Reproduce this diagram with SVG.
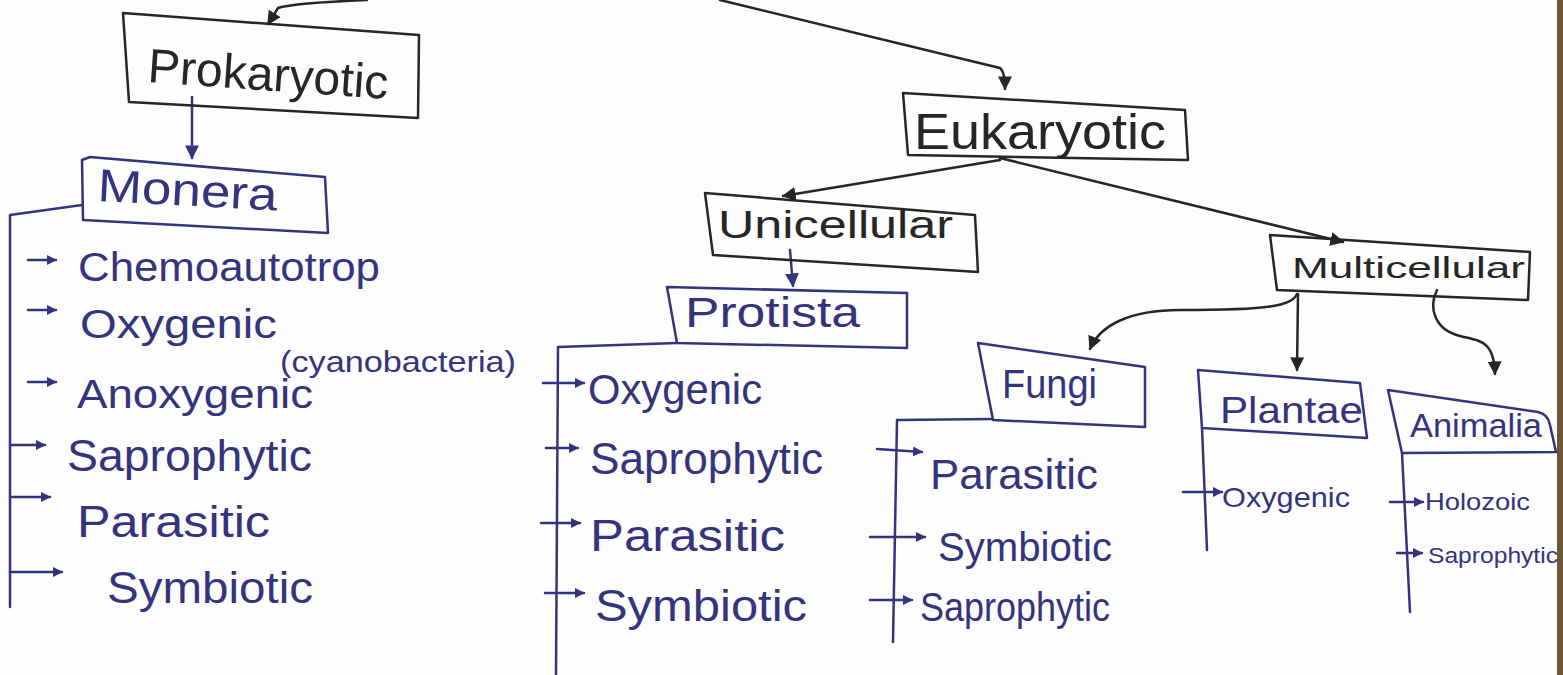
<svg xmlns="http://www.w3.org/2000/svg" width="1563" height="675" viewBox="0 0 1563 675">
<style>
.bk{fill:none;stroke:#262626;stroke-width:2.5;stroke-linejoin:round;stroke-linecap:round}
.bl{fill:none;stroke:#34347e;stroke-width:2.5;stroke-linejoin:round;stroke-linecap:round}
.tk{fill:#262626;font-family:"Liberation Sans","DejaVu Sans",sans-serif}
.tb{fill:#34347e;font-family:"Liberation Sans","DejaVu Sans",sans-serif}
</style>
<defs>
<marker id="ak" viewBox="0 0 10 10" refX="9" refY="5" markerWidth="14" markerHeight="14" markerUnits="userSpaceOnUse" orient="auto"><path d="M0,0 L10,5 L0,10 Z" fill="#262626"/></marker>
<marker id="ab" viewBox="0 0 10 10" refX="9" refY="5" markerWidth="14" markerHeight="14" markerUnits="userSpaceOnUse" orient="auto"><path d="M0,0 L10,5 L0,10 Z" fill="#34347e"/></marker>
<marker id="as" viewBox="0 0 10 10" refX="9" refY="5" markerWidth="10" markerHeight="10" markerUnits="userSpaceOnUse" orient="auto"><path d="M0,0 L10,5 L0,10 Z" fill="#34347e"/></marker>
</defs>
<rect x="0" y="0" width="1563" height="675" fill="#fdfdfd"/>
<rect x="1557" y="0" width="6" height="675" fill="#6b5a3a"/>

<g id="connectors">
<path class="bk" d="M367,0 C320,2 290,4 278,8 L268,24" marker-end="url(#ak)"/>
<path class="bk" d="M720,0 L1000,68 Q1005,72 1005,89" marker-end="url(#ak)"/>
<path class="bl" d="M192,97 L192,158" marker-end="url(#ab)"/>
<path class="bk" d="M1000,160 L783,196" marker-end="url(#ak)"/>
<path class="bk" d="M1000,158 L1343,242" marker-end="url(#ak)"/>
<path class="bl" d="M790,250 L793,286" marker-end="url(#ab)"/>
<path class="bk" d="M1297,294 C1292,306 1270,310 1180,310 C1130,310 1100,325 1090,349" marker-end="url(#ak)"/>
<path class="bk" d="M1298,294 L1297,370" marker-end="url(#ak)"/>
<path class="bk" d="M1437,290 C1428,308 1435,330 1460,336 C1480,341 1494,340 1495,374" marker-end="url(#ak)"/>
<!-- Monera bracket -->
<path class="bl" d="M82,205 L10,215 L10,607"/>
<path class="bl" d="M28,260 L56,260" marker-end="url(#as)"/>
<path class="bl" d="M28,310 L56,310" marker-end="url(#as)"/>
<path class="bl" d="M28,382 L56,382" marker-end="url(#as)"/>
<path class="bl" d="M10,445 L45,445" marker-end="url(#as)"/>
<path class="bl" d="M10,497 L50,497" marker-end="url(#as)"/>
<path class="bl" d="M10,572 L62,572" marker-end="url(#as)"/>
<!-- Protista bracket -->
<path class="bl" d="M677,343 L558,347 L556,675"/>
<path class="bl" d="M543,383 L584,383" marker-end="url(#as)"/>
<path class="bl" d="M546,448 L578,448" marker-end="url(#as)"/>
<path class="bl" d="M541,523 L580,523" marker-end="url(#as)"/>
<path class="bl" d="M545,593 L584,593" marker-end="url(#as)"/>
<!-- Fungi bracket -->
<path class="bl" d="M993,419 L897,420 L893,642"/>
<path class="bl" d="M877,449 L922,452" marker-end="url(#as)"/>
<path class="bl" d="M870,537 L925,537" marker-end="url(#as)"/>
<path class="bl" d="M870,600 L912,600" marker-end="url(#as)"/>
<!-- Plantae bracket -->
<path class="bl" d="M1202,428 L1207,550"/>
<path class="bl" d="M1183,492 L1222,492" marker-end="url(#as)"/>
<!-- Animalia bracket -->
<path class="bl" d="M1402,453 L1410,612"/>
<path class="bl" d="M1390,502 L1423,502" marker-end="url(#as)"/>
<path class="bl" d="M1397,553 L1422,553" marker-end="url(#as)"/>
</g>

<g id="prokaryotic">
<path class="bk" d="M123,13 L419,35 L418,118 L129,102 Z"/>
<text class="tk" x="147" y="82" font-size="48" textLength="241" lengthAdjust="spacingAndGlyphs" transform="rotate(4 147 82)">Prokaryotic</text>
</g>
<g id="monera">
<path class="bl" d="M82,160 L90,157 L325,177 L328,233 L83,220 Z"/>
<text class="tb" x="97" y="201" font-size="46" textLength="180" lengthAdjust="spacingAndGlyphs" transform="rotate(3 97 201)">Monera</text>
</g>
<g id="monera-traits">
<text class="tb" x="78" y="281" font-size="40" textLength="302" lengthAdjust="spacingAndGlyphs">Chemoautotrop</text>
<text class="tb" x="80" y="338" font-size="40" textLength="197" lengthAdjust="spacingAndGlyphs">Oxygenic</text>
<text class="tb" x="280" y="372" font-size="30" textLength="236" lengthAdjust="spacingAndGlyphs">(cyanobacteria)</text>
<text class="tb" x="77" y="408" font-size="40" textLength="236" lengthAdjust="spacingAndGlyphs">Anoxygenic</text>
<text class="tb" x="67" y="471" font-size="44" textLength="245" lengthAdjust="spacingAndGlyphs">Saprophytic</text>
<text class="tb" x="77" y="537" font-size="44" textLength="193" lengthAdjust="spacingAndGlyphs">Parasitic</text>
<text class="tb" x="107" y="603" font-size="44" textLength="206" lengthAdjust="spacingAndGlyphs">Symbiotic</text>
</g>

<g id="eukaryotic">
<path class="bk" d="M903,93 L1185,110 L1188,160 L908,155 Z"/>
<text class="tk" x="914" y="149" font-size="50" textLength="252" lengthAdjust="spacingAndGlyphs">Eukaryotic</text>
</g>
<g id="unicellular">
<path class="bk" d="M705,193 L975,215 L978,272 L713,255 Z"/>
<text class="tk" x="718" y="238" font-size="38" textLength="235" lengthAdjust="spacingAndGlyphs">Unicellular</text>
</g>
<g id="protista">
<path class="bl" d="M667,287 L907,293 L907,348 L677,343 Z"/>
<text class="tb" x="685" y="327" font-size="42" textLength="175" lengthAdjust="spacingAndGlyphs">Protista</text>
</g>
<g id="protista-traits">
<text class="tb" x="588" y="404" font-size="42" textLength="174" lengthAdjust="spacingAndGlyphs">Oxygenic</text>
<text class="tb" x="590" y="474" font-size="44" textLength="233" lengthAdjust="spacingAndGlyphs">Saprophytic</text>
<text class="tb" x="590" y="551" font-size="44" textLength="195" lengthAdjust="spacingAndGlyphs">Parasitic</text>
<text class="tb" x="595" y="621" font-size="44" textLength="212" lengthAdjust="spacingAndGlyphs">Symbiotic</text>
</g>

<g id="multicellular">
<path class="bk" d="M1270,235 L1530,252 L1528,300 L1277,290 Z"/>
<text class="tk" x="1292" y="278" font-size="30" textLength="233" lengthAdjust="spacingAndGlyphs">Multicellular</text>
</g>
<g id="fungi">
<path class="bl" d="M978,343 L1145,367 L1145,427 L993,420 Z"/>
<text class="tb" x="1002" y="398" font-size="40" textLength="95" lengthAdjust="spacingAndGlyphs">Fungi</text>
</g>
<g id="fungi-traits">
<text class="tb" x="930" y="489" font-size="42" textLength="168" lengthAdjust="spacingAndGlyphs">Parasitic</text>
<text class="tb" x="938" y="561" font-size="40" textLength="174" lengthAdjust="spacingAndGlyphs">Symbiotic</text>
<text class="tb" x="920" y="621" font-size="40" textLength="190" lengthAdjust="spacingAndGlyphs">Saprophytic</text>
</g>
<g id="plantae">
<path class="bl" d="M1198,370 L1360,383 L1367,438 L1202,428 Z"/>
<text class="tb" x="1220" y="423" font-size="36" textLength="143" lengthAdjust="spacingAndGlyphs">Plantae</text>
</g>
<g id="plantae-traits">
<text class="tb" x="1222" y="507" font-size="28" textLength="128" lengthAdjust="spacingAndGlyphs">Oxygenic</text>
</g>
<g id="animalia">
<path class="bl" d="M1388,390 L1538,412 Q1548,414 1550,425 L1556,452 L1402,453 Z"/>
<text class="tb" x="1410" y="437" font-size="34" textLength="132" lengthAdjust="spacingAndGlyphs">Animalia</text>
</g>
<g id="animalia-traits">
<text class="tb" x="1425" y="510" font-size="24" textLength="105" lengthAdjust="spacingAndGlyphs">Holozoic</text>
<text class="tb" x="1428" y="563" font-size="22" textLength="130" lengthAdjust="spacingAndGlyphs">Saprophytic</text>
</g>
</svg>
